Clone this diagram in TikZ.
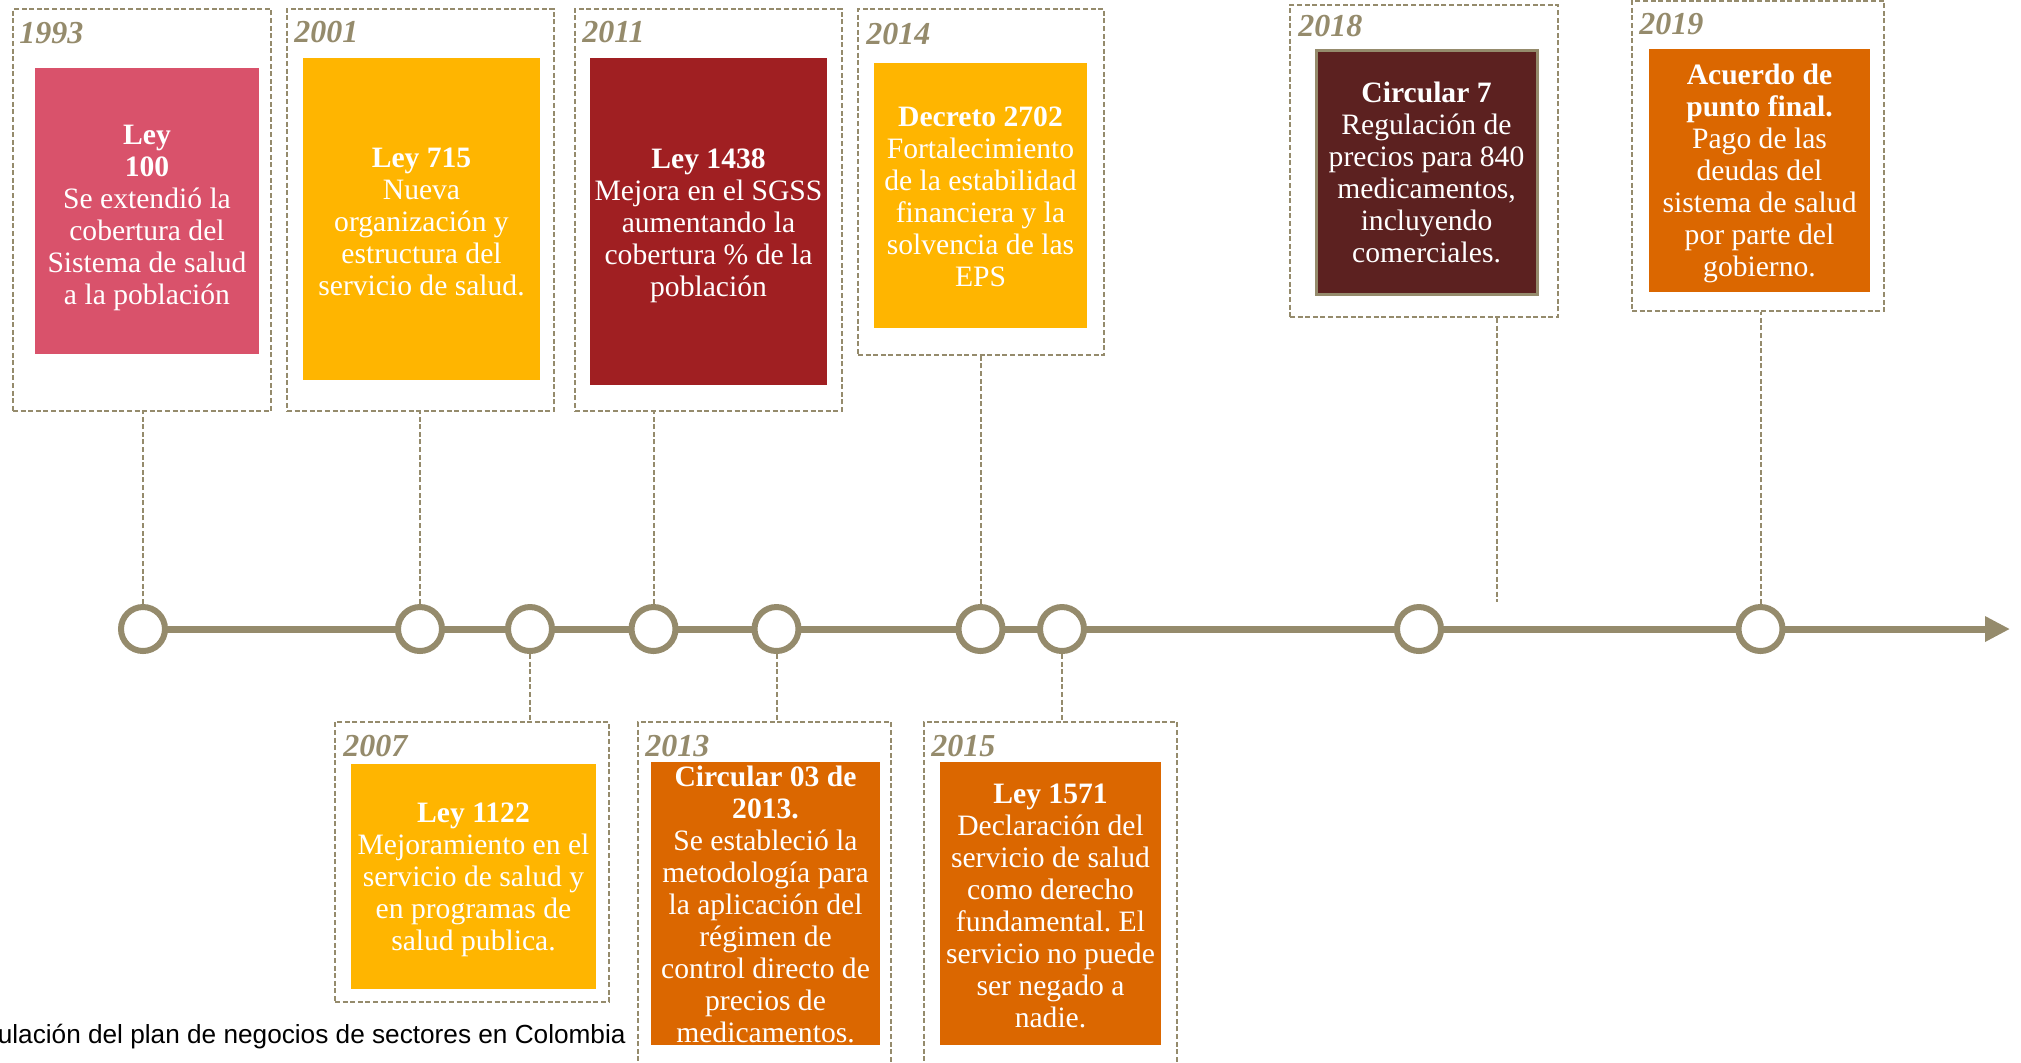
\documentclass[tikz,border=0pt]{standalone}
\usepackage{fontspec}
\setmainfont{Liberation Serif}
\newfontfamily\capfont{Liberation Sans}
\usetikzlibrary{arrows.meta,fit}
\frenchspacing
\definecolor{taupe}{HTML}{958B6C}
\definecolor{pinkc}{HTML}{D9526B}
\definecolor{yelc}{HTML}{FFB500}
\definecolor{dredc}{HTML}{A01F22}
\definecolor{dbrownc}{HTML}{5C2120}
\definecolor{orngc}{HTML}{DB6700}
\tikzset{
  outerbox/.style={draw=taupe, line width=1.1pt, dash pattern=on 2.5pt off 1.3pt, inner sep=0pt},
  fbox/.style={inner sep=0pt},
  btext/.style={inner sep=0pt, text=white, align=center, font=\fontsize{14.8}{16}\selectfont},
  yearlab/.style={anchor=west, text=taupe, font=\fontsize{16}{18}\selectfont\bfseries\itshape, inner sep=0pt},
  conn/.style={draw=taupe, line width=1pt, dash pattern=on 2.5pt off 1.3pt},
  tickc/.style={circle, draw=taupe, fill=white, line width=3pt, minimum size=22pt, inner sep=0pt},
  axisline/.style={draw=taupe, line width=3.5pt, -{Triangle[length=12.5pt,width=12pt]}},
  captext/.style={anchor=base east, inner sep=0pt, font=\capfont\fontsize{13.1}{15}\selectfont}
}
\begin{document}
\begin{tikzpicture}[x=0.5pt,y=-0.5pt]
\useasboundingbox (0,0) rectangle (2021,1062);
\clip (0,0) rectangle (2021,1062);

% axis
\coordinate (axstart) at (143,629);
\coordinate (axend) at (2010,629);
\draw[axisline] (axstart) -- (axend);

% circles
\node[tickc] (c1993) at (143,629) {};
\node[tickc] (c2001) at (420,629) {};
\node[tickc] (c2007) at (530,629) {};
\node[tickc] (c2011) at (653.5,629) {};
\node[tickc] (c2013) at (776.5,629) {};
\node[tickc] (c2014) at (980.5,629) {};
\node[tickc] (c2015) at (1062,629) {};
\node[tickc] (c2018) at (1419,629) {};
\node[tickc] (c2019) at (1760.5,629) {};

% outer dashed frames
\node[outerbox, fit={(13,9) (271,411)}] (o1993) {};
\node[outerbox, fit={(287,9) (554,411)}] (o2001) {};
\node[outerbox, fit={(575,9) (842,411)}] (o2011) {};
\node[outerbox, fit={(858,9) (1104,355)}] (o2014) {};
\node[outerbox, fit={(1290,5) (1558,317)}] (o2018) {};
\node[outerbox, fit={(1632,1) (1884,311)}] (o2019) {};
\node[outerbox, fit={(335,722) (609,1002)}] (o2007) {};
\node[outerbox, fit={(638,722) (891,1090)}] (o2013) {};
\node[outerbox, fit={(924,722) (1177,1090)}] (o2015) {};

% year labels
\node[yearlab] (y1993) at (19,33) {1993};
\node[yearlab] (y2001) at (294,32) {2001};
\node[yearlab] (y2011) at (582,32) {2011};
\node[yearlab] (y2014) at (866,34) {2014};
\node[yearlab] (y2018) at (1298,26) {2018};
\node[yearlab] (y2019) at (1639,24) {2019};
\node[yearlab] (y2007) at (343,746) {2007};
\node[yearlab] (y2013) at (645,746) {2013};
\node[yearlab] (y2015) at (931,746) {2015};

% coloured boxes
\node[fbox, fill=pinkc, fit={(35,68) (259,354)}] (b1993) {};
\node[fbox, fill=yelc, fit={(303,58) (540,380)}] (b2001) {};
\node[fbox, fill=dredc, fit={(590,58) (827,385)}] (b2011) {};
\node[fbox, fill=yelc, fit={(874,63) (1087,328)}] (b2014) {};
\node[fbox, fill=dbrownc, draw=taupe, line width=1.5pt, fit={(1316,50) (1537,294)}] (b2018) {};
\node[fbox, fill=orngc, fit={(1649,49) (1870,292)}] (b2019) {};
\node[fbox, fill=yelc, fit={(351,764) (596,989)}] (b2007) {};
\node[fbox, fill=orngc, fit={(651,762) (880,1045)}] (b2013) {};
\node[fbox, fill=orngc, fit={(940,762) (1161,1045)}] (b2015) {};

% box texts
\node[btext, yshift=-3.3pt] (t1993) at (b1993.center)
  {\textbf{Ley}\\\textbf{100}\\Se extendió la\\cobertura del\\Sistema de salud\\a la población};
\node[btext, yshift=-1.7pt] (t2001) at (b2001.center)
  {\textbf{Ley 715}\\Nueva\\organización y\\estructura del\\servicio de salud.};
\node[btext, yshift=-2.3pt] (t2011) at (b2011.center)
  {\textbf{Ley 1438}\\Mejora en el SGSS\\aumentando la\\cobertura \% de la\\población};
\node[btext, yshift=-0.4pt] (t2014) at (b2014.center)
  {\textbf{Decreto 2702}\\Fortalecimiento\\de la estabilidad\\financiera y la\\solvencia de las\\EPS};
\node[btext, yshift=-0.4pt] (t2018) at (b2018.center)
  {\textbf{Circular 7}\\Regulación de\\precios para 840\\medicamentos,\\incluyendo\\comerciales.};
\node[btext, yshift=-1.7pt] (t2019) at (b2019.center)
  {\textbf{Acuerdo de}\\\textbf{punto final.}\\Pago de las\\deudas del\\sistema de salud\\por parte del\\gobierno.};
\node[btext, yshift=-1.7pt] (t2007) at (b2007.center)
  {\textbf{Ley 1122}\\Mejoramiento en el\\servicio de salud y\\en programas de\\salud publica.};
\node[btext, yshift=-0.4pt] (t2013) at (b2013.center)
  {\textbf{Circular 03 de}\\\textbf{2013.}\\Se estableció la\\metodología para\\la aplicación del\\régimen de\\control directo de\\precios de\\medicamentos.};
\node[btext, yshift=-1.0pt] (t2015) at (b2015.center)
  {\textbf{Ley 1571}\\Declaración del\\servicio de salud\\como derecho\\fundamental. El\\servicio no puede\\ser negado a\\nadie.};

% connectors
\draw[conn] (c1993.north) -- (c1993 |- o1993.south);
\draw[conn] (c2001.north) -- (c2001 |- o2001.south);
\draw[conn] (c2011.north) -- (c2011 |- o2011.south);
\draw[conn] (c2014.north) -- (c2014 |- o2014.south);
\draw[conn] (c2019.north) -- (c2019 |- o2019.south);
\coordinate (e2018) at (1497,602);
\draw[conn] (e2018 |- o2018.south) -- (e2018);
\draw[conn] (c2007.south) -- (c2007 |- o2007.north);
\draw[conn] (c2013.south) -- (c2013 |- o2013.north);
\draw[conn] (c2015.south) -- (c2015 |- o2015.north);

% caption
\node[captext] (cap) at (626,1043) {ulación del plan de negocios de sectores en Colombia};
\end{tikzpicture}
\end{document}
